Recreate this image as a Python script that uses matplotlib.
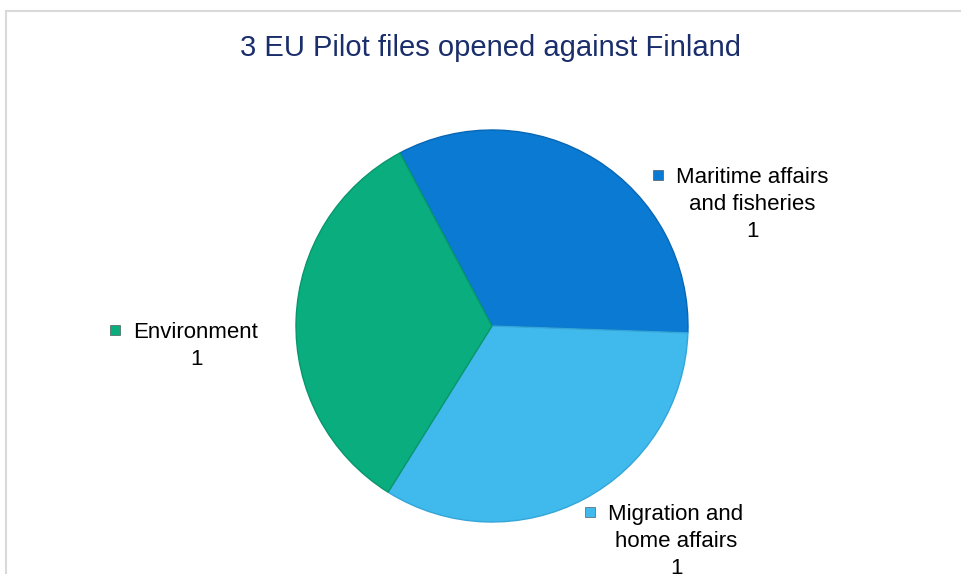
import matplotlib
matplotlib.use("Agg")
import matplotlib.pyplot as plt
from matplotlib.patches import Rectangle

plt.rcParams['font.family'] = ['Liberation Sans', 'DejaVu Sans']

title = "3 EU Pilot files opened against Finland"
categories = ["Maritime affairs\nand fisheries", "Migration and\nhome affairs", "Environment"]
values = [1, 1, 1]
colors = ["#0A7AD2", "#40B9EC", "#09AD7E"]
edge_colors = ["#0867B4", "#35A6D8", "#08976D"]

W, H = 961, 574
fig = plt.figure(figsize=(W / 100, H / 100), dpi=100)
fig.patch.set_facecolor("white")
ax = fig.add_axes([0, 0, 1, 1])

center = (492, H - 326)
radius = 196
wedges, _ = ax.pie(values, colors=colors, startangle=118, counterclock=False,
                   center=center, radius=radius, frame=True,
                   wedgeprops=dict(linewidth=1.0))
for w, ec in zip(wedges, edge_colors):
    w.set_edgecolor(ec)
ax.set_xlim(0, W)
ax.set_ylim(0, H)
ax.set_aspect("equal")
ax.axis("off")

# frame of the chart area
ax.add_patch(Rectangle((6, -10), W + 20, H - 11 + 10, fill=False,
                       edgecolor="#D9D9D9", linewidth=1.5))

ax.text(490, H - 48, title, ha="center", va="center", fontsize=21, color="#1A2E6C")

# label layout: (text centre x, top of first line y, marker x, marker y)
label_layout = [(752, 167, 658, 175), (676, 504, 590, 512), (196, 322, 115, 330)]
for cat, val, col, (tx, ty, mx, my) in zip(categories, values, colors, label_layout):
    ax.text(tx, H - ty, f"{cat}\n{val}", ha="center", va="top", fontsize=16,
            color="black", linespacing=1.36)
    ax.plot([mx], [H - my], marker="s", markersize=6.5, color=col,
            markeredgecolor="#404040", markeredgewidth=0.4)

fig.savefig("out.png", dpi=100, facecolor="white")
